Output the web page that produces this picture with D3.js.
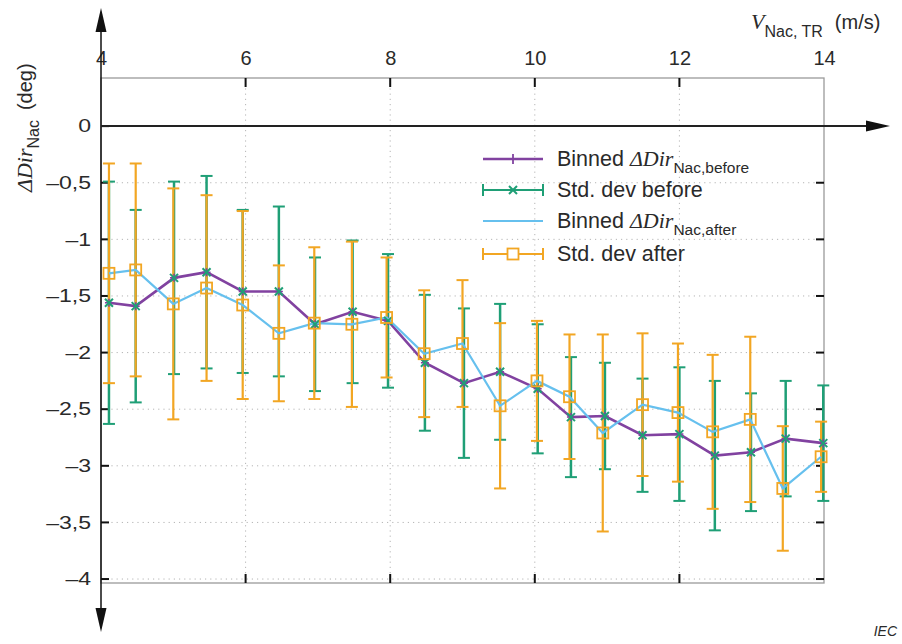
<!DOCTYPE html>
<html>
<head>
<meta charset="utf-8">
<script src="https://cdn.jsdelivr.net/npm/d3@7"></script>
<style>
  body { margin: 0; background: #fff; }
  svg { font-family: "Liberation Sans", Arial, sans-serif; }
</style>
</head>
<body>
<div class="chart"></div>
<script>
// wind speed bin means (m/s)
const windBefore = [4.11, 4.48, 5.01, 5.46, 5.96, 6.46, 6.96, 7.48, 7.97, 8.48, 9.02, 9.52, 10.04, 10.5, 10.97, 11.49, 12.0, 12.49, 12.99, 13.47, 13.99];
const windAfter = [4.11, 4.48, 5.0, 5.46, 5.96, 6.46, 6.95, 7.47, 7.95, 8.47, 9.0, 9.52, 10.03, 10.48, 10.94, 11.49, 11.98, 12.46, 12.98, 13.43, 13.96];

// binned direction offset (deg) and its std. dev
const meanBefore = [-1.56, -1.59, -1.34, -1.29, -1.46, -1.46, -1.75, -1.64, -1.72, -2.09, -2.27, -2.17, -2.32, -2.57, -2.56, -2.73, -2.72, -2.91, -2.88, -2.76, -2.80];
const sdBefore = [1.07, 0.85, 0.85, 0.85, 0.72, 0.75, 0.59, 0.63, 0.59, 0.60, 0.66, 0.60, 0.57, 0.53, 0.47, 0.50, 0.59, 0.66, 0.52, 0.51, 0.51];
const meanAfter = [-1.30, -1.27, -1.57, -1.43, -1.58, -1.83, -1.74, -1.75, -1.69, -2.01, -1.92, -2.47, -2.25, -2.39, -2.71, -2.46, -2.53, -2.70, -2.59, -3.20, -2.92];
const sdAfter = [0.97, 0.94, 1.02, 0.82, 0.83, 0.60, 0.67, 0.73, 0.53, 0.56, 0.56, 0.73, 0.53, 0.55, 0.87, 0.63, 0.61, 0.68, 0.73, 0.55, 0.31];

const xTicks = [4, 6, 8, 10, 12, 14];
const yTicks = [0, -0.5, -1, -1.5, -2, -2.5, -3, -3.5, -4];

const colPurple = '#8142a0', colGreen = '#1f9f76', colBlue = '#66c0ee', colOrange = '#f2a623';

const W = 902, H = 644;
const pl = 101, pr = 824, pt = 78, pb = 583;

const svg = d3.select('.chart').append('svg')
  .attr('width', W).attr('height', H);

const x = d3.scaleLinear().domain([4, 14]).range([pl, pr]);
const y = d3.scaleLinear().domain([-4.035, 0.425]).range([pb, pt]);

const fmt = d => d === 0 ? '0' : '\u2013' + String(Math.abs(d)).replace('.', ',');

// grid
svg.append('g').selectAll('line').data(xTicks.slice(1, -1)).enter().append('line')
  .attr('x1', d => x(d)).attr('x2', d => x(d)).attr('y1', pt).attr('y2', pb)
  .attr('stroke', '#b5b5b5').attr('stroke-dasharray', '1.2,4');
svg.append('g').selectAll('line').data(yTicks.slice(1)).enter().append('line')
  .attr('x1', pl).attr('x2', pr).attr('y1', d => y(d)).attr('y2', d => y(d))
  .attr('stroke', '#b5b5b5').attr('stroke-dasharray', '1.2,4');

// frame
svg.append('rect').attr('x', pl).attr('y', pt)
  .attr('width', pr - pl).attr('height', pb - pt)
  .attr('fill', 'none').attr('stroke', '#9a9a9a').attr('stroke-width', 1.3);

// top axis with labels
const gTop = svg.append('g').attr('transform', `translate(0,${pt})`)
  .call(d3.axisTop(x).tickValues(xTicks).tickSize(0).tickPadding(13).tickFormat(d3.format('d')));
gTop.select('.domain').remove();
gTop.selectAll('text').attr('font-size', 20).attr('fill', '#2a2a2a')
  .attr('font-family', '"Liberation Sans", Arial, sans-serif');

// inner x ticks top and bottom
svg.append('g').selectAll('line').data(xTicks.slice(1, -1)).enter().append('line')
  .attr('x1', d => x(d)).attr('x2', d => x(d)).attr('y1', pt).attr('y2', pt + 9)
  .attr('stroke', '#111').attr('stroke-width', 2);
svg.append('g').selectAll('line').data(xTicks.slice(1, -1)).enter().append('line')
  .attr('x1', d => x(d)).attr('x2', d => x(d)).attr('y1', pb).attr('y2', pb - 9)
  .attr('stroke', '#111').attr('stroke-width', 2);

// left axis with labels (labels in the source are drawn wide)
const gLeft = svg.append('g').attr('transform', `translate(${pl},0)`)
  .call(d3.axisLeft(y).tickValues(yTicks).tickSize(0).tickPadding(10).tickFormat(fmt));
gLeft.select('.domain').remove();
gLeft.selectAll('text').attr('font-size', 18).attr('fill', '#2a2a2a')
  .attr('font-family', '"Liberation Sans", Arial, sans-serif')
  .attr('x', -10 / 1.28).attr('transform', 'scale(1.28,1)');

// inner y ticks left and right
svg.append('g').selectAll('line').data(yTicks).enter().append('line')
  .attr('x1', pl).attr('x2', pl + 8).attr('y1', d => y(d)).attr('y2', d => y(d))
  .attr('stroke', '#111').attr('stroke-width', 2);
svg.append('g').selectAll('line').data(yTicks.slice(1)).enter().append('line')
  .attr('x1', pr).attr('x2', pr - 8).attr('y1', d => y(d)).attr('y2', d => y(d))
  .attr('stroke', '#111').attr('stroke-width', 2);

// main axes with arrows
svg.append('line').attr('x1', pl).attr('x2', pl).attr('y1', 20).attr('y2', 620)
  .attr('stroke', '#111').attr('stroke-width', 1.5);
svg.append('line').attr('x1', pl).attr('x2', 875).attr('y1', y(0)).attr('y2', y(0))
  .attr('stroke', '#222').attr('stroke-width', 2);
svg.append('path').attr('d', `M${pl},8 L${pl - 5.5},32 L${pl + 5.5},32 Z`).attr('fill', '#111');
svg.append('path').attr('d', `M${pl},632 L${pl - 5.5},608 L${pl + 5.5},608 Z`).attr('fill', '#111');
svg.append('path').attr('d', `M890,${y(0)} L866,${y(0) - 5.5} L866,${y(0) + 5.5} Z`).attr('fill', '#111');

// error bars
function errorBars(xs, ms, sds, color, width) {
  const g = svg.append('g');
  xs.forEach((xv, i) => {
    const y1 = y(ms[i] + sds[i]), y2 = y(ms[i] - sds[i]), cx = x(xv);
    g.append('line').attr('x1', cx).attr('x2', cx).attr('y1', y1).attr('y2', y2)
      .attr('stroke', color).attr('stroke-width', width);
    [y1, y2].forEach(yy => g.append('line').attr('x1', cx - 6).attr('x2', cx + 6)
      .attr('y1', yy).attr('y2', yy).attr('stroke', color).attr('stroke-width', 2));
  });
}
errorBars(windBefore, meanBefore, sdBefore, colGreen, 2.5);
errorBars(windAfter, meanAfter, sdAfter, colOrange, 2.2);

const line = d3.line().x(d => x(d[0])).y(d => y(d[1]));

svg.append('path').datum(d3.zip(windBefore, meanBefore)).attr('d', line)
  .attr('fill', 'none').attr('stroke', colPurple).attr('stroke-width', 2.6);
svg.append('g').selectAll('path').data(d3.zip(windBefore, meanBefore)).enter().append('path')
  .attr('d', d => `M${x(d[0]) - 4},${y(d[1])}h8M${x(d[0])},${y(d[1]) - 4}v8`)
  .attr('stroke', colPurple).attr('stroke-width', 1.5);

svg.append('path').datum(d3.zip(windAfter, meanAfter)).attr('d', line)
  .attr('fill', 'none').attr('stroke', colBlue).attr('stroke-width', 2.2);

svg.append('g').selectAll('path').data(d3.zip(windBefore, meanBefore)).enter().append('path')
  .attr('d', d => `M${x(d[0]) - 4},${y(d[1]) - 4}l8,8M${x(d[0]) - 4},${y(d[1]) + 4}l8,-8`)
  .attr('stroke', colGreen).attr('stroke-width', 2);

svg.append('g').selectAll('rect').data(d3.zip(windAfter, meanAfter)).enter().append('rect')
  .attr('x', d => x(d[0]) - 5.5).attr('y', d => y(d[1]) - 5.5)
  .attr('width', 11).attr('height', 11)
  .attr('fill', 'none').attr('stroke', colOrange).attr('stroke-width', 1.8);

// legend
const legend = svg.append('g').attr('transform', 'translate(483,0)');
const rows = [
  {y: 159, color: colPurple, kind: 'plus', main: 'Binned ', sub: 'Nac,before'},
  {y: 190, color: colGreen, kind: 'cross', main: 'Std. dev before'},
  {y: 221, color: colBlue, kind: 'none', main: 'Binned ', sub: 'Nac,after'},
  {y: 254, color: colOrange, kind: 'square', main: 'Std. dev after'}
];
rows.forEach(r => {
  const g = legend.append('g').attr('transform', `translate(0,${r.y})`);
  g.append('line').attr('x1', 0).attr('x2', 60).attr('stroke', r.color)
    .attr('stroke-width', r.kind === 'plus' ? 2.6 : 2.2);
  if (r.kind === 'cross' || r.kind === 'square') {
    [0, 60].forEach(cx => g.append('line').attr('x1', cx).attr('x2', cx)
      .attr('y1', -6).attr('y2', 6).attr('stroke', r.color).attr('stroke-width', 2));
  }
  if (r.kind === 'plus') g.append('path').attr('d', 'M30,-5v10').attr('stroke', r.color).attr('stroke-width', 1.8);
  if (r.kind === 'cross') g.append('path').attr('d', 'M26,-4l8,8M26,4l8,-8').attr('stroke', r.color).attr('stroke-width', 2);
  if (r.kind === 'square') g.append('rect').attr('x', 24.5).attr('y', -5.5).attr('width', 11).attr('height', 11)
    .attr('fill', '#fff').attr('stroke', r.color).attr('stroke-width', 1.8);
  const t = g.append('text').attr('x', 74).attr('y', 7).attr('font-size', 21.5).attr('fill', '#2a2a2a');
  t.append('tspan').text(r.main);
  if (r.sub) {
    t.append('tspan').attr('font-family', '"Liberation Serif", "Times New Roman", serif')
      .attr('font-style', 'italic').attr('font-size', 22).text('\u0394Dir');
    t.append('tspan').attr('font-size', 15.5).attr('dy', 7).text(r.sub);
  }
});

// axis titles
const xt = svg.append('text').attr('x', 751).attr('y', 29).attr('fill', '#2a2a2a');
xt.append('tspan').attr('font-family', '"Liberation Serif", serif').attr('font-style', 'italic')
  .attr('font-size', 22).text('V');
xt.append('tspan').attr('font-size', 16).attr('dy', 8).text('Nac, TR');
xt.append('tspan').attr('font-size', 20).attr('dy', -8).attr('dx', 12).text('(m/s)');

const yt = svg.append('text').attr('transform', 'translate(32,192) rotate(-90)').attr('fill', '#2a2a2a');
yt.append('tspan').attr('font-family', '"Liberation Serif", serif').attr('font-style', 'italic')
  .attr('font-size', 22).text('\u0394Dir');
yt.append('tspan').attr('font-size', 16).attr('dy', 7).text('Nac');
yt.append('tspan').attr('font-size', 20).attr('dy', -7).attr('dx', 10).text('(deg)');

svg.append('text').attr('x', 897).attr('y', 636).attr('text-anchor', 'end')
  .attr('font-size', 14).attr('font-style', 'italic').attr('fill', '#2a2a2a').text('IEC');
</script>
</body>
</html>
